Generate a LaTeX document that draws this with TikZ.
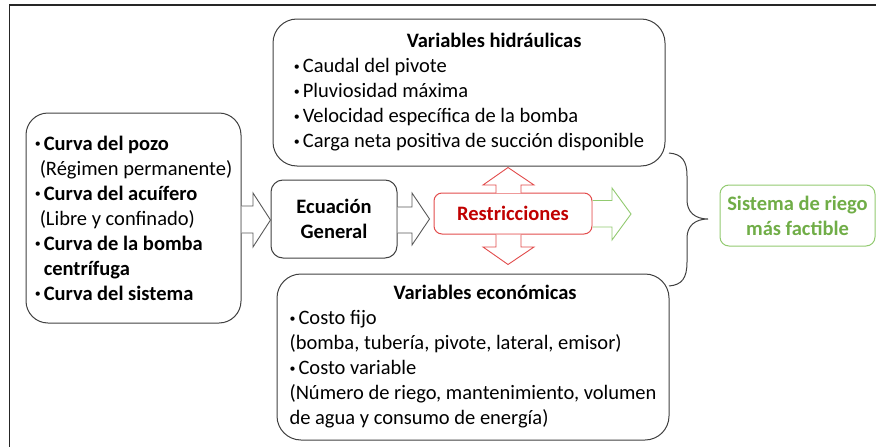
\documentclass[tikz,border=0pt]{standalone}
\usepackage{fontspec}
\setmainfont{Carlito}
\usetikzlibrary{calc}
\definecolor{boxline}{RGB}{64,64,64}
\definecolor{arrline}{RGB}{89,89,89}
\definecolor{redline}{RGB}{226,76,76}
\definecolor{redtext}{RGB}{192,0,0}
\definecolor{greenline}{RGB}{146,202,112}
\definecolor{greentext}{RGB}{112,173,71}
\newcommand{\dfont}{\fontsize{20.5}{25}\selectfont}
\newcommand{\bul}{\makebox[9pt][l]{\raisebox{2.2pt}{\fontsize{12}{12}\selectfont\mdseries •}}}
\begin{document}
\begin{tikzpicture}[x=1pt,y=-1pt,
  box/.style={draw=boxline, line width=1pt, rounded corners=22pt, align=left, inner sep=2pt, font=\dfont, text=black},
  blockarrow/.style={draw=arrline, line width=0.9pt, fill=white, line join=miter},
  redarrow/.style={draw=redline, line width=0.9pt, fill=white, line join=miter},
  greenarrow/.style={draw=greenline, line width=0.9pt, fill=white, line join=miter},
  bracestyle/.style={draw=boxline, line width=1pt}]
\useasboundingbox (0,0) rectangle (876,447);
% outer frame
\draw[line width=1.5pt, color=black!85] (9.5,447) -- (9.5,5) -- (876,5);

% boxes
\node[box, minimum width=215pt, minimum height=210pt] (left) at (133.5,218) {%
\bul\textbf{Curva del pozo}\\
\hspace*{5pt}(Régimen permanente)\\
\bul\textbf{Curva del acuífero}\\
\hspace*{5pt}(Libre y confinado)\\
\bul\textbf{Curva de la bomba}\\
\hspace*{9pt}\textbf{centrífuga}\\
\bul\textbf{Curva del sistema}};

\node[box, minimum width=392pt, minimum height=147pt, rounded corners=24pt] (hyd) at (469,92.5) {%
\hspace*{113pt}\textbf{Variables hidráulicas}\\
\bul Caudal del pivote\\
\bul Pluviosidad máxima\\
\bul Velocidad específica de la bomba\\
\bul Carga neta positiva de succión disponible};

\node[box, minimum width=126pt, minimum height=78pt, rounded corners=12pt, align=center] (ecu) at (334,219) {\textbf{Ecuación}\\\textbf{General}};

\node[box, draw=redline, minimum width=158pt, minimum height=41pt, rounded corners=8pt, align=center, text=redtext] (res) at (513,213.5) {\textbf{Restricciones}};

\node[box, minimum width=392pt, minimum height=166pt, rounded corners=24pt] (eco) at (473,357) {%
\hspace*{104pt}\textbf{Variables económicas}\\
\bul Costo fijo\\
(bomba, tubería, pivote, lateral, emisor)\\
\bul Costo variable\\
(Número de riego, mantenimiento, volumen\\
de agua y consumo de energía)};

\node[box, draw=greenline, minimum width=155pt, minimum height=61pt, rounded corners=9pt, align=center, text=greentext] (sis) at (797.5,215.5) {\textbf{Sistema de riego}\\\textbf{más factible}};

% block arrow: left -> ecu
\draw[blockarrow] (left.east |- 0,206) -- (253,206) -- (253,193) -- (ecu.west |- 0,220) -- (253,247) -- (253,233) -- (left.east |- 0,233);
% block arrow: ecu -> res
\draw[blockarrow] (ecu.east |- 0,207) -- (412,207) -- (412,193) -- ($(res.west |- 0,219)+(-4,0)$) -- (412,245) -- (412,233) -- (ecu.east |- 0,233);
% green arrow: res -> out
\coordinate (gtip) at (631,214);
\draw[greenarrow] (res.east |- 0,200.5) -- (612,200.5) -- (612,188) -- (gtip) -- (612,240) -- (612,227) -- (res.east |- 0,227);
% red arrows up / down
\draw[redarrow] (496,193) -- (496,185) -- (483,185) -- ($(hyd.south)+(39,1)$) -- (534,185) -- (521,185) -- (521,193);
\draw[redarrow] (496,234.5) -- (496,247) -- (483,247) -- ($(eco.north)+(35,-9)$) -- (534,247) -- (521,247) -- (521,234.5);

% brace
\coordinate (btop) at (669,153);
\coordinate (bbot) at (669,286);
\coordinate (btip) at (708,219);
\draw[bracestyle] (btop) .. controls (682,154) and (687,161) .. (687,176) -- (687,200)
  .. controls (687,212) and (695,219) .. (btip)
  .. controls (695,219) and (687,226) .. (687,238) -- (687,262)
  .. controls (687,278) and (682,285) .. (bbot);
\end{tikzpicture}
\end{document}
